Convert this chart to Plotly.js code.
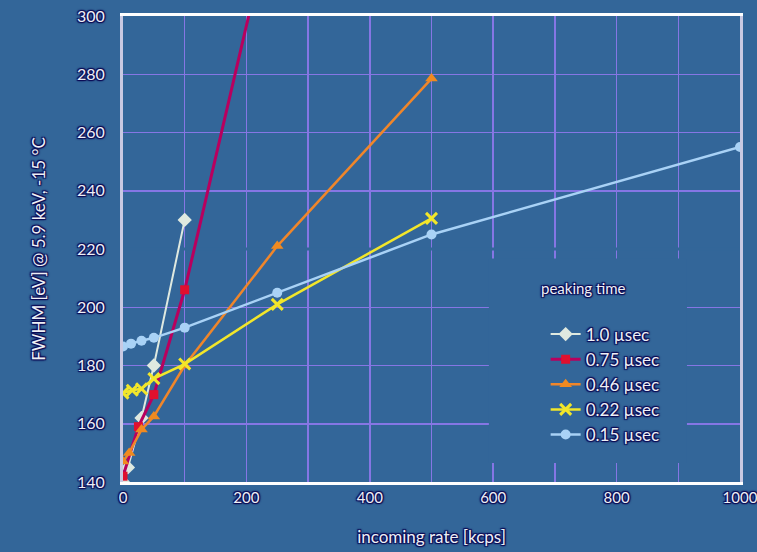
<!DOCTYPE html>
<html>
<head>
<meta charset="utf-8">
<script src="https://cdn.plot.ly/plotly-3.0.1.min.js"></script>
<style>html,body{margin:0;padding:0;background:#336699;}</style>
</head>
<body>
<div id="chart" style="width:757px;height:552px;"></div>
<script>
// ---- data ----
const seriesNames = ["1.0 \u00b5sec", "0.75 \u00b5sec", "0.46 \u00b5sec", "0.22 \u00b5sec", "0.15 \u00b5sec"];
const legendTitle = "peaking time";

const rate_10  = [0, 8, 30, 50, 100];
const fwhm_10  = [140, 145, 162, 180, 230];

const rate_075 = [0, 25, 50, 100, 250];
const fwhm_075 = [142, 159, 170, 206, 342];

const rate_046 = [0, 10, 30, 50, 100, 250, 500];
const fwhm_046 = [147, 150, 158, 162.5, 180, 221, 278.5];

const rate_022 = [0, 15, 30, 50, 100, 250, 500];
const fwhm_022 = [170.5, 171.5, 172, 175.5, 180.5, 201, 230.5];

const rate_015 = [0, 13, 30, 50, 100, 250, 500, 1000];
const fwhm_015 = [186.5, 187.5, 188.5, 189.5, 193, 205, 225, 255];

const xTicks = [0, 200, 400, 600, 800, 1000];
const yTicks = [140, 160, 180, 200, 220, 240, 260, 280, 300];

// ---- styling ----
const BG = "#336699";
const GRID = "#8676e4";
const FONT = "Lato, 'DejaVu Sans', sans-serif";
const SHADOW = "1px 1px 1px #0b0b55, -1px -1px 1px #0b0b55, 1px -1px 1px #0b0b55, -1px 1px 1px #0b0b55, 0 0 3px #0b0b55";

const traces = [
  {x: rate_10, y: fwhm_10, name: seriesNames[0], mode: "lines+markers",
   line: {color: "#dfe9e0", width: 2},
   marker: {symbol: "diamond", size: 11, color: "#dfe9e0"}},
  {x: rate_075, y: fwhm_075, name: seriesNames[1], mode: "lines+markers",
   line: {color: "#b8005e", width: 3},
   marker: {symbol: "square", size: 9, color: "#e0102e"}},
  {x: rate_046, y: fwhm_046, name: seriesNames[2], mode: "lines+markers",
   line: {color: "#f0862a", width: 2.5},
   marker: {symbol: "triangle-up", size: 11, color: "#f08a20"}},
  {x: rate_022, y: fwhm_022, name: seriesNames[3], mode: "lines+markers",
   line: {color: "#f2e62a", width: 2.5},
   marker: {symbol: "x-thin", size: 11, color: "#f2e62a", line: {color: "#f2e62a", width: 3}}},
  {x: rate_015, y: fwhm_015, name: seriesNames[4], mode: "lines+markers",
   line: {color: "#a9d2f6", width: 2.5},
   marker: {symbol: "circle", size: 10, color: "#a9d2f6"}}
];

const layout = {
  width: 757, height: 552,
  paper_bgcolor: BG, plot_bgcolor: BG,
  margin: {l: 123, r: 17, t: 16, b: 70},
  font: {family: FONT, color: "#eef0f6", size: 15},
  showlegend: true,
  legend: {
    x: 0.685, y: 0.355, xanchor: "left", yanchor: "top",
    bgcolor: "rgba(0,0,0,0)",
    font: {family: FONT, size: 17, color: "#eef0f6", shadow: SHADOW}
  },
  annotations: [
    {text: legendTitle, xref: "paper", yref: "paper", x: 0.747, y: 0.416,
     xanchor: "center", yanchor: "middle", showarrow: false,
     font: {family: FONT, size: 15, color: "#eef0f6", shadow: SHADOW}}
  ],
  xaxis: {
    range: [0, 1000], tickvals: xTicks, ticktext: xTicks.map(String),
    showgrid: true, gridcolor: GRID, gridwidth: 1.5,
    minor: {dtick: 100, showgrid: true, gridcolor: GRID, gridwidth: 1.5},
    zeroline: false,
    showline: true, linecolor: "#ffffff", linewidth: 3, mirror: true,
    ticks: "", ticklabeloverflow: "allow",
    tickfont: {family: FONT, size: 15, color: "#eef0f6", shadow: SHADOW},
    title: {text: "incoming rate [kcps]", standoff: 27,
            font: {family: FONT, size: 17, color: "#eef0f6", shadow: SHADOW}},
    automargin: false
  },
  yaxis: {
    range: [140, 300], tickvals: yTicks, ticktext: yTicks.map(String),
    showgrid: true, gridcolor: GRID, gridwidth: 1.5,
    zeroline: false,
    showline: true, linecolor: "#c9c9e2", linewidth: 3, mirror: true,
    ticks: "", ticklabelstandoff: 12, ticklabeloverflow: "allow",
    tickfont: {family: FONT, size: 16, color: "#eef0f6", shadow: SHADOW},
    title: {text: "FWHM [eV] @ 5.9 keV, -15 \u00b0C", standoff: 28,
            font: {family: FONT, size: 17, color: "#eef0f6", shadow: SHADOW}},
    automargin: false
  },
  shapes: [
    {type: "rect", xref: "x", yref: "y", x0: 593, x1: 914, y0: 146.5, y1: 216.7,
     fillcolor: BG, line: {width: 0}, layer: "between"},
    {type: "line", xref: "x", yref: "y", x0: 0, x1: 1000, y0: 220, y1: 220,
     line: {color: BG, width: 3}, layer: "between"}
  ]
};

Plotly.newPlot("chart", traces, layout, {displayModeBar: false, staticPlot: true});
</script>
</body>
</html>
